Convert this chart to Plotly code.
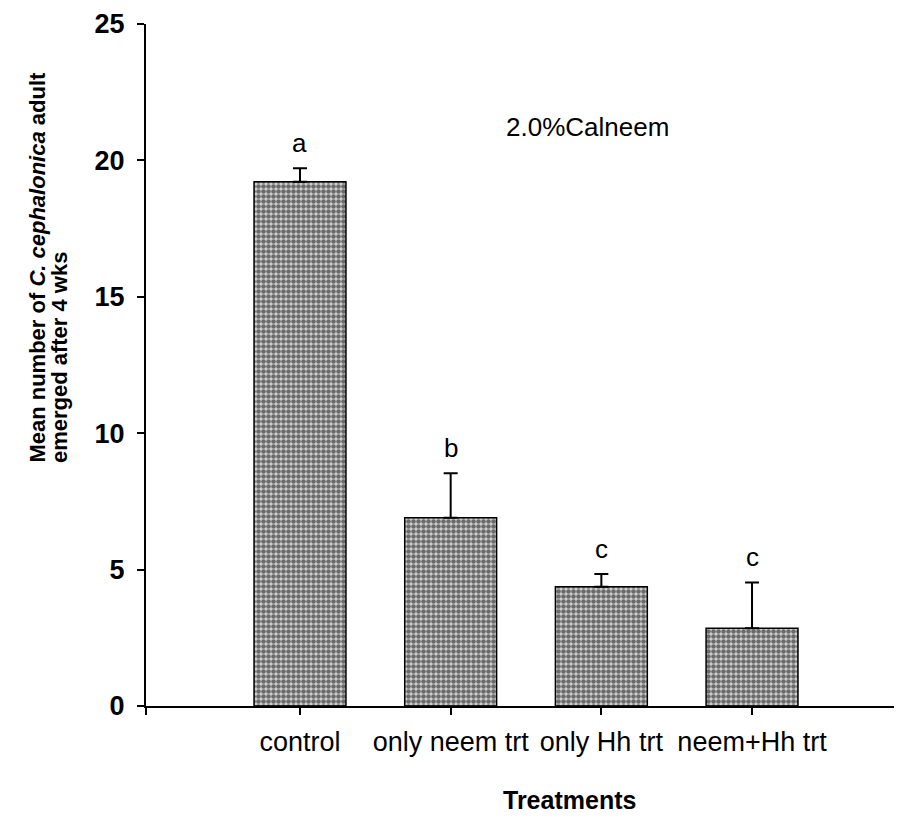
import plotly.graph_objects as go

categories = ["control", "only neem trt", "only Hh trt", "neem+Hh trt"]
positions = [1, 2, 3, 4]
means = [19.22, 6.90, 4.37, 2.85]
errors = [0.49, 1.63, 0.47, 1.68]
letters = ["a", "b", "c", "c"]
yticks = [0, 5, 10, 15, 20, 25]
xrange_ = [-0.022, 4.982]

ARIAL = "Liberation Sans, Arial, sans-serif"

fig = go.Figure()
fig.add_trace(go.Bar(
    x=positions, y=means, width=0.61,
    marker=dict(
        color="white",
        line=dict(color="black", width=1.5),
        pattern=dict(shape=".", fgcolor="black", bgcolor="#d4d4d4", size=5, solidity=0.66),
    ),
    error_y=dict(type="data", symmetric=False, array=errors,
                 arrayminus=[0] * len(errors), color="black", thickness=2, width=7),
    showlegend=False,
))

for xp, m, e, l in zip(positions, means, errors, letters):
    fig.add_annotation(x=xp, y=m + e, text=l, showarrow=False, yanchor="bottom",
                       yshift=8, font=dict(family=ARIAL, size=26, color="black"))

fig.add_annotation(x=2.907, y=21.23, text="2.0%Calneem", showarrow=False,
                   font=dict(family=ARIAL, size=26, color="black"))

fig.add_annotation(xref="paper", yref="paper", x=0.5616, y=-0.138,
                   text="<b>Treatments</b>", showarrow=False, yanchor="middle",
                   font=dict(family=ARIAL, size=25, color="black"))

fig.add_annotation(xref="paper", yref="paper", x=-0.1444, y=0.3534,
                   text="<b>Mean number of <i>C. cephalonica</i> adult</b>",
                   showarrow=False, textangle=-90,
                   xanchor="center", yanchor="bottom",
                   font=dict(family=ARIAL, size=22, color="black"))
fig.add_annotation(xref="paper", yref="paper", x=-0.1139, y=0.3534,
                   text="<b>emerged after 4 wks</b>",
                   showarrow=False, textangle=-90,
                   xanchor="center", yanchor="bottom",
                   font=dict(family=ARIAL, size=22, color="black"))

fig.update_xaxes(range=xrange_, tickmode="array",
                 tickvals=[xrange_[0]] + positions + [xrange_[1]],
                 ticktext=[""] + categories + [""], ticks="outside", ticklen=7,
                 tickwidth=2, tickcolor="black", showline=True, linecolor="black",
                 linewidth=2, showgrid=False, zeroline=False, ticklabelstandoff=4,
                 tickfont=dict(family=ARIAL, size=27, color="black"))
fig.update_yaxes(range=[0, 25], tickmode="array", tickvals=yticks,
                 ticktext=["<b>%d</b>" % v for v in yticks], ticks="outside", ticklen=7,
                 tickwidth=2, tickcolor="black", showline=True, linecolor="black",
                 linewidth=2, showgrid=False, zeroline=False, ticklabelstandoff=7,
                 tickfont=dict(family=ARIAL, size=27, color="black"))

fig.update_layout(width=894, height=807, margin=dict(l=138, r=2, t=16, b=109),
                  plot_bgcolor="white", paper_bgcolor="white")

fig.write_html("out.html")
